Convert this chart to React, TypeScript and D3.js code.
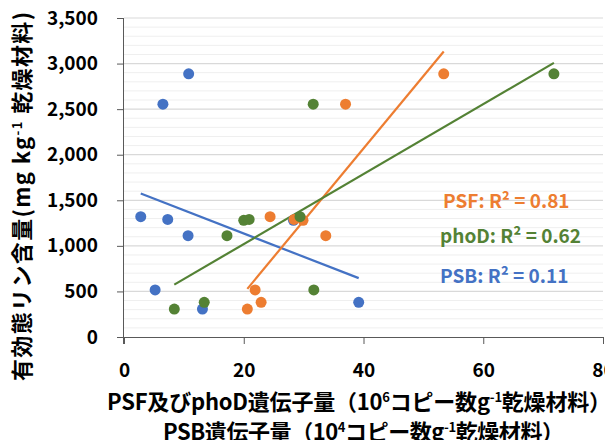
import React, { useEffect, useRef } from 'react';
import * as d3 from 'd3';

// available P (mg/kg) shared by each sample
const pValues = [307, 381, 516, 1112, 1280, 1290, 1320, 2554, 2887];
const psbGene = [13.1, 39.2, 5.2, 10.7, 28.3, 7.3, 2.8, 6.5, 10.8];
const psfGene = [20.6, 22.9, 21.9, 33.7, 29.9, 28.4, 24.4, 37.0, 53.4];
const phodGene = [8.4, 13.4, 31.7, 17.2, 20.0, 20.9, 29.4, 31.6, 71.8];

const seriesNames = ['PSB', 'PSF', 'phoD'];
const seriesColors = ['#4472C4', '#ED7D31', '#548235'];
const r2Labels = ['PSB: R² = 0.11', 'PSF: R² = 0.81', 'phoD: R² = 0.62'];
const xTicks = [0, 20, 40, 60, 80];

const FONT = '"Noto Sans CJK JP", "Noto Sans", sans-serif';

function fit(xs: number[], ys: number[]) {
	const mx = d3.mean(xs) as number;
	const my = d3.mean(ys) as number;
	let sxy = 0, sxx = 0;
	xs.forEach((x, i) => {
		sxy += (x - mx) * (ys[i] - my);
		sxx += (x - mx) * (x - mx);
	});
	const slope = sxy / sxx;
	return { slope, intercept: my - slope * mx };
}

// text with superscript parts: [text, isSup]
function richText(sel: any, parts: [string, boolean][]) {
	let up = false;
	parts.forEach(([t, sup]) => {
		const ts = sel.append('tspan').text(t);
		if (sup && !up) { ts.attr('dy', -8).style('font-size', '13px'); up = true; }
		else if (sup) { ts.style('font-size', '13px'); }
		else if (up) { ts.attr('dy', 8); up = false; }
	});
}

const Chart = () => {
	const ref = useRef<SVGSVGElement>(null);

	useEffect(() => {
		const svg = d3.select(ref.current);
		svg.selectAll('*').remove();

		const left = 124, right = 603, top = 18, bottom = 337;
		const x = d3.scaleLinear().domain([0, 80]).range([left, right]);
		const y = d3.scaleLinear().domain([0, 3500]).range([bottom, top]);

		// minor grid
		svg.append('g')
			.selectAll('line')
			.data(d3.range(0, 3501, 100).filter(v => v % 500 !== 0))
			.join('line')
			.attr('x1', left).attr('x2', right)
			.attr('y1', d => y(d)).attr('y2', d => y(d))
			.attr('stroke', '#EFEFEF').attr('stroke-width', 1);

		// major grid
		svg.append('g')
			.selectAll('line')
			.data(d3.range(500, 3501, 500))
			.join('line')
			.attr('x1', left).attr('x2', right)
			.attr('y1', d => y(d)).attr('y2', d => y(d))
			.attr('stroke', '#D9D9D9').attr('stroke-width', 1.2);

		const yAxis = svg.append('g')
			.attr('transform', `translate(${left},0)`)
			.call(d3.axisLeft(y).tickValues(d3.range(0, 3501, 500)).tickSize(7).tickPadding(19).tickFormat(d3.format(',')));
		yAxis.select('.domain').attr('stroke', '#595959').attr('d', `M-0.5,${top}V${bottom + 7}`);
		yAxis.selectAll('.tick line').attr('stroke', '#595959');
		yAxis.selectAll('text')
			.style('font-family', FONT).style('font-size', '19px').style('font-weight', 'bold')
			.attr('fill', '#000');

		const xAxis = svg.append('g')
			.attr('transform', `translate(0,${bottom})`)
			.call(d3.axisBottom(x).tickValues(xTicks).tickSize(7).tickPadding(20));
		xAxis.select('.domain').attr('stroke', '#595959').attr('d', `M${left},0.5H${right}`);
		xAxis.selectAll('.tick line').attr('stroke', '#595959');
		xAxis.selectAll('text')
			.style('font-family', FONT).style('font-size', '19px').style('font-weight', 'bold')
			.attr('fill', '#000');

		const genes = [psbGene, psfGene, phodGene];

		// trend lines
		genes.forEach((xs, i) => {
			const { slope, intercept } = fit(xs, pValues);
			const [x0, x1] = d3.extent(xs) as [number, number];
			svg.append('line')
				.attr('x1', x(x0)).attr('y1', y(intercept + slope * x0))
				.attr('x2', x(x1)).attr('y2', y(intercept + slope * x1))
				.attr('stroke', seriesColors[i]).attr('stroke-width', 2.2);
		});

		// points
		genes.forEach((xs, i) => {
			svg.append('g')
				.attr('class', `pts-${seriesNames[i]}`)
				.selectAll('circle')
				.data(xs.map((v, j) => ({ gx: v, p: pValues[j] })))
				.join('circle')
				.attr('cx', d => x(d.gx)).attr('cy', d => y(d.p))
				.attr('r', 5.5)
				.attr('fill', seriesColors[i]);
		});

		// R² labels
		const labelY = [276, 201, 236];
		const labelX = [440, 443, 440];
		r2Labels.forEach((t, i) => {
			svg.append('text')
				.attr('x', labelX[i]).attr('y', labelY[i]).attr('dy', '0.35em')
				.attr('fill', seriesColors[i])
				.style('font-family', FONT).style('font-size', '19px').style('font-weight', 'bold')
				.text(t);
		});

		// y title
		const yt = svg.append('text')
			.attr('transform', `translate(22,${(12 + 381) / 2}) rotate(-90)`)
			.attr('text-anchor', 'middle').attr('dy', '0.35em')
			.attr('textLength', 369).attr('lengthAdjust', 'spacing')
			.style('font-family', FONT).style('font-size', '22px').style('font-weight', 'bold');
		richText(yt, [['有効態リン含量(mg kg', false], ['-1', true], [' 乾燥材料)', false]]);

		// x title
		const cx = (left + right) / 2;
		const xt1 = svg.append('text')
			.attr('x', 359).attr('y', 410).attr('text-anchor', 'middle')
			.attr('textLength', 504).attr('lengthAdjust', 'spacing')
			.style('font-family', FONT).style('font-size', '22px').style('font-weight', 'bold');
		richText(xt1, [['PSF及びphoD遺伝子量（10', false], ['6', true], ['コピー数g', false], ['-1', true], ['乾燥材料）', false]]);

		const xt2 = svg.append('text')
			.attr('x', cx).attr('y', 440).attr('text-anchor', 'middle')
			.attr('textLength', 401).attr('lengthAdjust', 'spacing')
			.style('font-family', FONT).style('font-size', '22px').style('font-weight', 'bold');
		richText(xt2, [['PSB遺伝子量（10', false], ['4', true], ['コピー数g', false], ['-1', true], ['乾燥材料）', false]]);
	}, []);

	return <svg ref={ref} width={613} height={448} style={{ display: 'block' }} />;
};

export default function App() {
	return (
		<div style={{ margin: -8 }}>
			<Chart />
		</div>
	);
}
